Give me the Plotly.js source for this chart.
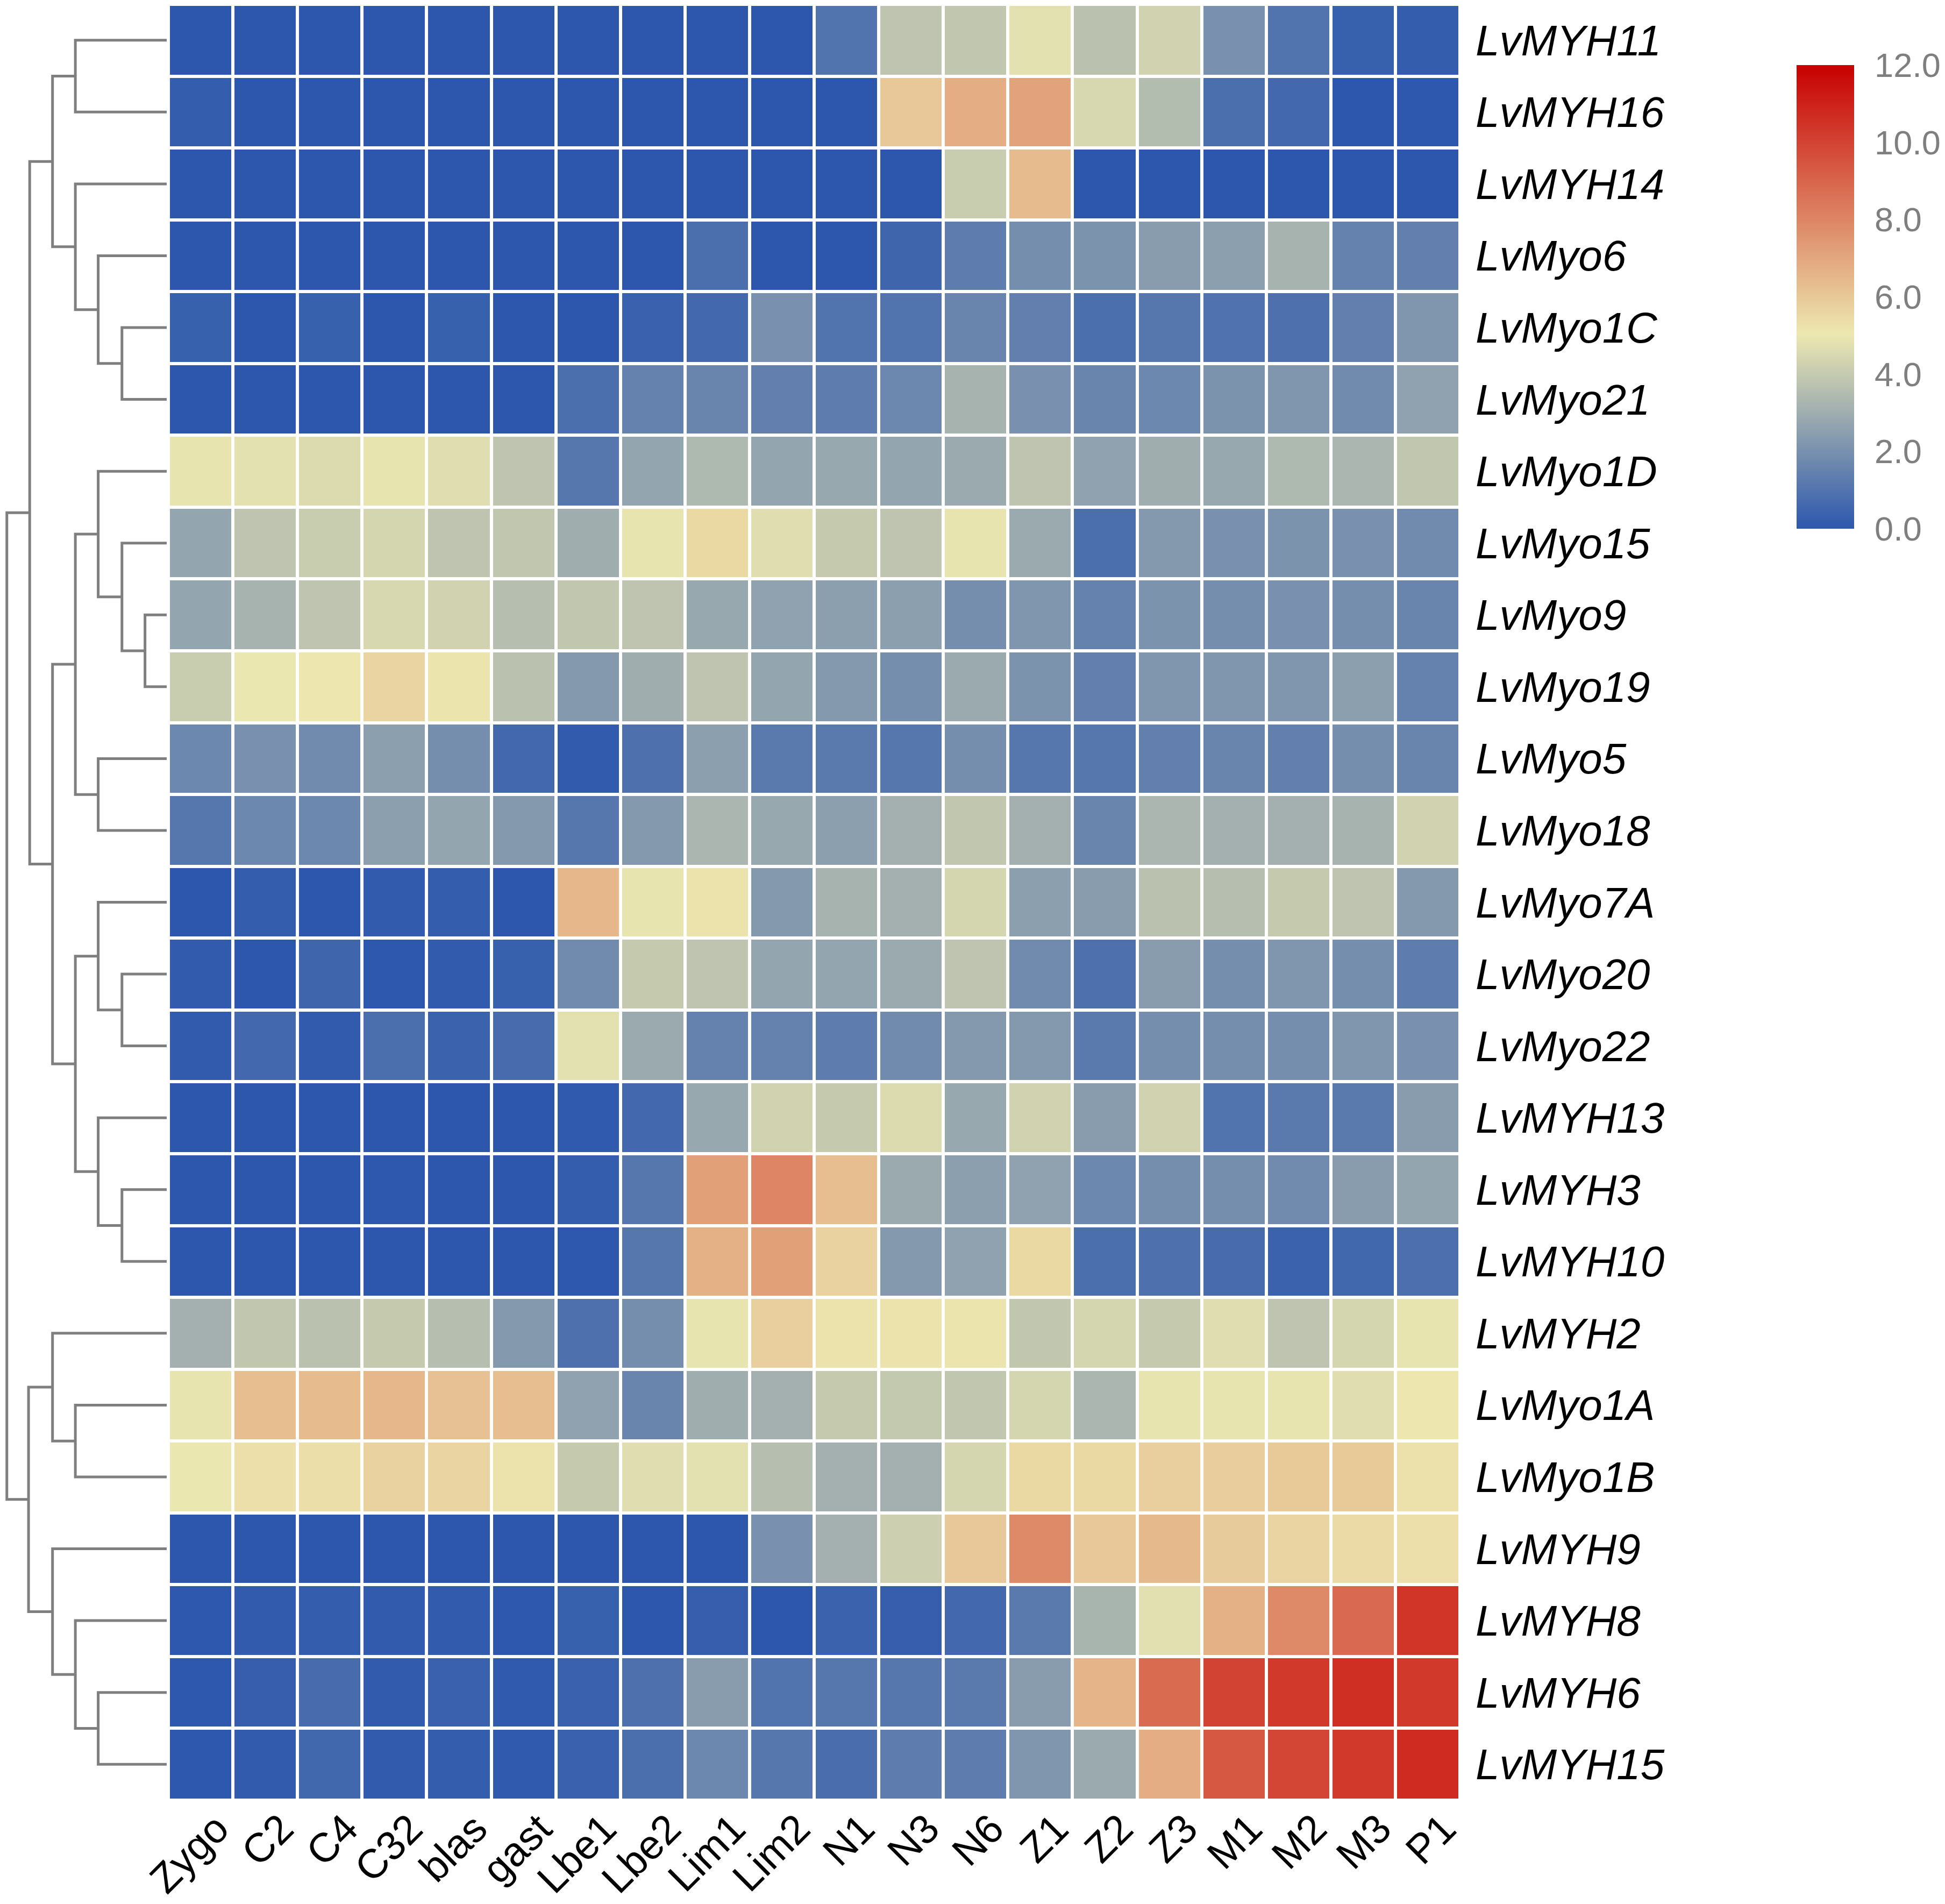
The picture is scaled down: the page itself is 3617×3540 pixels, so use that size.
<!DOCTYPE html>
<html>
<head>
<meta charset="utf-8">
<script src="https://cdn.plot.ly/plotly-3.0.1.min.js"></script>
<style>html,body{margin:0;padding:0;background:#fff;}</style>
</head>
<body>
<div id="chart" style="width:3617px;height:3540px;"></div>
<script>
// ---- data ----
const samples = ["Zygo","C2","C4","C32","blas","gast","Lbe1","Lbe2","Lim1","Lim2","N1","N3","N6","Z1","Z2","Z3","M1","M2","M3","P1"];
const genes = ["LvMYH11","LvMYH16","LvMYH14","LvMyo6","LvMyo1C","LvMyo21","LvMyo1D","LvMyo15","LvMyo9","LvMyo19","LvMyo5","LvMyo18","LvMyo7A","LvMyo20","LvMyo22","LvMYH13","LvMYH3","LvMYH10","LvMYH2","LvMyo1A","LvMyo1B","LvMYH9","LvMYH8","LvMYH6","LvMYH15"];

const LvMYH11 = [0,0,0,0,0,0,0,0,0,0, 1.0,3.8,3.9,4.8,3.7,4.3,2.0,1.0,0.3,0.2];
const LvMYH16 = [0.2,0,0,0,0,0,0,0,0,0, 0,6.0,6.8,7.1,4.5,3.5,0.8,0.6,0,0.05];
const LvMYH14 = [0,0,0,0,0,0,0,0,0,0, 0,0,4.1,6.4,0,0,0,0,0,0];
const LvMyo6  = [0,0,0,0,0,0,0,0,0.8,0, 0,0.5,1.3,1.9,2.1,2.4,2.5,3.2,1.5,1.4];
const LvMyo1C = [0.3,0,0.3,0,0.3,0,0,0.35,0.6,2.0, 1.0,1.0,1.6,1.4,0.8,1.1,0.95,0.9,1.4,2.2];
const LvMyo21 = [0,0,0,0,0,0,0.8,1.5,1.6,1.4, 1.3,1.7,3.2,2.0,1.6,1.7,2.1,2.2,1.8,2.6];
const LvMyo1D = [4.9,4.8,4.6,4.9,4.7,3.8,1.1,2.7,3.4,2.7, 2.8,2.7,2.9,3.8,2.6,3.0,2.8,3.4,3.3,3.9];
const LvMyo15 = [2.7,3.8,4.1,4.4,3.8,3.9,3.0,4.9,5.5,4.7, 4.0,3.8,4.9,2.9,0.8,2.3,2.0,2.1,2.0,1.8];
const LvMyo9  = [2.7,3.2,3.8,4.5,4.3,3.6,3.9,3.8,2.8,2.6, 2.5,2.5,1.9,2.2,1.5,2.1,1.9,2.0,1.9,1.6];
const LvMyo19 = [4.1,5.0,5.1,5.6,5.15,3.7,2.3,3.0,3.8,2.7, 2.3,1.9,2.9,2.1,1.4,2.2,2.2,2.2,2.5,1.5];
const LvMyo5  = [1.7,2.0,1.8,2.5,1.9,0.6,0.15,0.9,2.5,1.2, 1.2,1.1,1.9,1.1,1.1,1.4,1.6,1.4,1.9,1.6];
const LvMyo18 = [1.1,1.7,1.7,2.5,2.7,2.3,1.1,2.3,3.3,2.8, 2.5,3.1,3.9,3.1,1.6,3.3,3.1,3.1,3.2,4.3];
const LvMyo7A = [0,0.2,0,0.15,0.2,0,6.5,4.9,5.2,2.3, 3.2,3.1,4.4,2.5,2.4,3.7,3.6,4.0,3.8,2.3];
const LvMyo20 = [0.15,0,0.5,0.05,0.15,0.3,1.8,4.0,3.8,2.7, 2.7,2.9,3.8,1.8,0.9,2.4,1.9,2.2,1.9,1.3];
const LvMyo22 = [0.15,0.6,0.15,0.8,0.4,0.7,4.8,2.9,1.5,1.5, 1.3,1.8,2.3,2.3,1.2,1.9,1.9,1.9,2.2,2.0];
const LvMYH13 = [0,0,0,0,0,0,0.1,0.6,2.8,4.3, 4.0,4.6,2.8,4.3,2.4,4.3,1.0,1.2,1.2,2.4];
const LvMYH3  = [0,0,0,0.05,0,0,0.2,1.1,7.2,8.0, 6.3,2.9,2.5,2.6,1.7,1.9,1.9,1.8,2.4,2.7];
const LvMYH10 = [0,0,0,0,0,0,0.05,1.1,6.7,7.2, 5.7,2.3,2.6,5.5,0.8,0.9,0.7,0.4,0.55,0.85];
const LvMYH2  = [3.1,3.9,3.7,4.0,3.6,2.3,0.9,1.9,4.9,5.8, 5.2,5.2,5.15,3.9,4.4,4.0,4.7,3.8,4.4,4.9];
const LvMyo1A = [4.9,6.3,6.4,6.5,6.2,6.3,2.6,1.6,3.0,3.1, 4.0,3.95,3.9,4.4,3.3,4.9,4.9,4.9,4.7,5.1];
const LvMyo1B = [5.0,5.3,5.35,5.7,5.6,5.2,4.0,4.7,4.8,3.6, 3.1,3.1,4.4,5.5,5.5,5.8,5.85,5.95,5.95,5.25];
const LvMYH9  = [0,0,0,0,0,0,0,0,0,2.0, 3.1,4.2,6.0,7.9,6.0,6.45,5.9,5.6,5.45,5.3];
const LvMYH8  = [0.05,0.15,0.2,0.15,0.15,0.05,0.3,0,0.25,0, 0.4,0.25,0.6,1.2,3.25,4.75,6.7,7.9,8.85,10.4];
const LvMYH6  = [0.05,0.25,0.7,0.15,0.35,0.1,0.35,0.9,2.4,1.0, 1.1,1.1,1.2,2.4,6.6,8.8,10.0,10.3,10.6,10.3];
const LvMYH15 = [0.05,0.15,0.55,0.15,0.2,0.1,0.35,0.8,1.7,1.1, 0.75,1.3,1.3,2.2,2.9,6.8,9.4,9.9,10.3,10.7];

const rowValues = [LvMYH11,LvMYH16,LvMYH14,LvMyo6,LvMyo1C,LvMyo21,LvMyo1D,LvMyo15,LvMyo9,LvMyo19,LvMyo5,LvMyo18,LvMyo7A,LvMyo20,LvMyo22,LvMYH13,LvMYH3,LvMYH10,LvMYH2,LvMyo1A,LvMyo1B,LvMYH9,LvMYH8,LvMYH6,LvMYH15];

// row dendrogram merges (hclust style): negative = leaf (-(row index+1)), positive = merge number (1-based)
const mergeLeft   = [-1, -5, -4, -3, 1, -9, -8, -7, -11, 8, -14, -13, -17, -16, 12, 10, 5, -20, -19, -24, -23, -22, 19, 17];
const mergeRight  = [-2, -6,  2,  3, 4, -10, 6, 7, -12, 9, -15, 11, -18, 13, 14, 15, 16, -21, 18, -25, 20, 21, 22, 23];
const mergeHeight = [4, 1.96, 3, 4, 5, 0.95, 1.96, 3, 3, 4, 1.96, 3, 1.96, 3, 4, 5, 6, 4, 5, 3, 4, 5, 6.05, 7];

const colorTicks = [0, 2, 4, 6, 8, 10, 12];

// ---- build dendrogram segments ----
const nodeY = [], nodeH = [];
function pos(ref) {
  if (ref < 0) return { y: -ref - 1, h: 0 };
  return { y: nodeY[ref - 1], h: nodeH[ref - 1] };
}
const dx = [], dy = [];
for (let i = 0; i < mergeLeft.length; i++) {
  const a = pos(mergeLeft[i]), b = pos(mergeRight[i]);
  const h = mergeHeight[i];
  dx.push(a.h, h, h, b.h, null);
  dy.push(a.y, a.y, b.y, b.y, null);
  nodeY.push((a.y + b.y) / 2);
  nodeH.push(h);
}

const W = 3617, H = 3540;
const xDom = [313 / W, 2715 / W];
const yDom = [1 - 3347 / H, 1 - 8 / H];
const FONT = "Liberation Sans, Arial, Helvetica, sans-serif";

const heat = {
  type: "heatmap",
  z: rowValues,
  x: samples.map((_, i) => i),
  y: genes.map((_, i) => i),
  zmin: 0, zmax: 12,
  xgap: 6, ygap: 6,
  colorscale: [[0, "#2C57AD"], [0.42, "#EDE8B0"], [1, "#C80000"]],
  colorbar: {
    thickness: 107, thicknessmode: "pixels",
    len: 862, lenmode: "pixels",
    x: 3341 / W, xanchor: "left", xpad: 0,
    y: 1 - 121 / H, yanchor: "top", ypad: 0,
    outlinewidth: 0,
    tickvals: colorTicks,
    ticktext: colorTicks.map(v => v.toFixed(1)),
    ticks: "outside", ticklen: 26, tickcolor: "rgba(0,0,0,0)",
    tickfont: { family: FONT, size: 63, color: "#7f7f7f" }
  },
  hoverinfo: "skip",
  xaxis: "x", yaxis: "y"
};

const dendro = {
  type: "scatter", mode: "lines",
  x: dx, y: dy,
  line: { color: "#7f7f7f", width: 5 },
  hoverinfo: "skip",
  xaxis: "x2", yaxis: "y2",
  showlegend: false
};

const layout = {
  width: W, height: H,
  margin: { l: 0, r: 0, t: 0, b: 0, pad: 0 },
  paper_bgcolor: "#ffffff", plot_bgcolor: "#ffffff",
  showlegend: false,
  xaxis: {
    domain: xDom, range: [-0.5, samples.length - 0.5],
    tickvals: samples.map((_, i) => i), ticktext: samples,
    tickangle: -45, ticks: "", showgrid: false, zeroline: false, showline: false,
    anchor: "free", position: yDom[0] + 8 / H,
    ticklabelstandoff: 0, ticklabelshift: 30,
    tickfont: { family: FONT, size: 76, color: "#000000" }
  },
  yaxis: {
    domain: yDom, range: [genes.length - 0.5, -0.5],
    tickvals: genes.map((_, i) => i), ticktext: genes,
    side: "right", ticks: "", showgrid: false, zeroline: false, showline: false,
    ticklabelstandoff: 28,
    tickfont: { family: FONT, size: 80, color: "#000000", style: "italic" },
    anchor: "x"
  },
  xaxis2: {
    domain: [0, 310 / W], range: [7.3, 0],
    showticklabels: false, ticks: "", showgrid: false, zeroline: false, showline: false,
    anchor: "y2"
  },
  yaxis2: {
    domain: yDom, range: [genes.length - 0.5, -0.5],
    showticklabels: false, ticks: "", showgrid: false, zeroline: false, showline: false,
    anchor: "x2"
  }
};

Plotly.newPlot("chart", [heat, dendro], layout, { displayModeBar: false, staticPlot: true });
</script>
</body>
</html>
